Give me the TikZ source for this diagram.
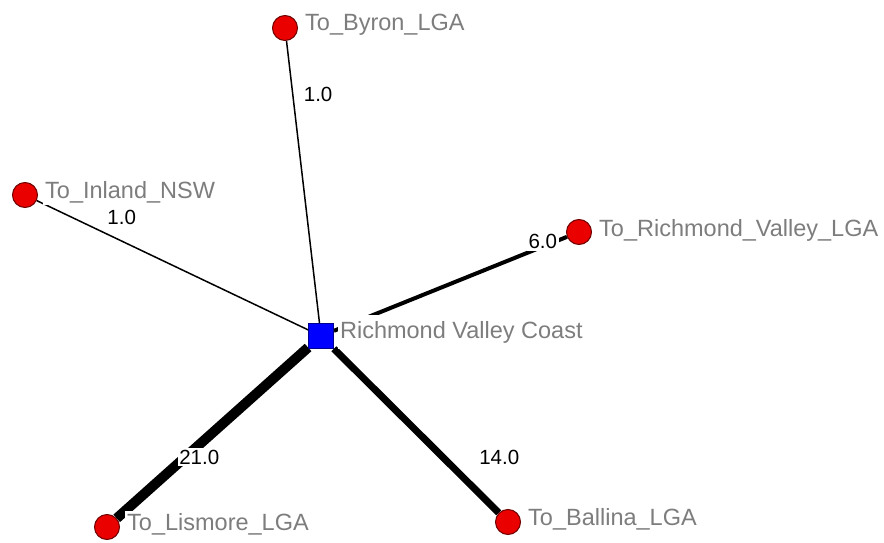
\documentclass[tikz,border=0pt]{standalone}
\usepackage{fontspec}
\setmainfont{Liberation Sans}
\usetikzlibrary{positioning,backgrounds}
\definecolor{nodered}{RGB}{235,0,0}
\definecolor{nodeborder}{RGB}{110,0,0}
\definecolor{hubblue}{RGB}{0,0,255}
\definecolor{hubborder}{RGB}{0,0,140}
\definecolor{labgray}{RGB}{125,125,125}
\begin{document}
\begin{tikzpicture}[x=1pt,y=-1pt,
  nd/.style={circle,minimum size=25pt,inner sep=0pt,fill=nodered,draw=nodeborder,line width=1pt},
  hub/.style={rectangle,minimum size=25pt,inner sep=0pt,fill=hubblue,draw=hubborder,line width=0.8pt},
  nlab/.style={font=\fontsize{23.5}{26}\selectfont,text=labgray,fill=white,inner sep=2pt},
  elab/.style={font=\fontsize{20.5}{24}\selectfont,text=black,fill=white,inner sep=1.5pt},
  wa/.style={line width=1.5pt},
  wb/.style={line width=4pt},
  wc/.style={line width=7pt},
  wd/.style={line width=10pt}]
\useasboundingbox (0,0) rectangle (884,543);
\node[hub] (c) at (321,336) {};
\node[nd] (byron) at (285,28) {};
\node[nd] (inland) at (25,195) {};
\node[nd] (rv) at (579,232) {};
\node[nd] (lis) at (107,527) {};
\node[nd] (bal) at (508,522) {};
\begin{scope}[on background layer]
\draw[wa] (c) -- node[elab,pos=0.80,xshift=25pt,yshift=3pt]{1.0} (byron);
\draw[wa] (c) -- node[elab,pos=0.72,xshift=9pt,yshift=19pt]{1.0} (inland);
\draw[wb] (c) -- node[elab,pos=0.905,xshift=-2pt,yshift=4pt]{6.0} (rv);
\draw[wd] (c) -- node[elab,pos=0.60,xshift=6pt,yshift=-7pt]{21.0} (lis);
\draw[wc] (c) -- node[elab,pos=0.833,xshift=28pt,yshift=28pt]{14.0} (bal);
\end{scope}
\node[nlab, inner ysep=6pt, right=4pt of c, yshift=4pt] (cl) {Richmond Valley Coast};
\node[nlab, right=5pt of byron, yshift=3pt] (byronl) {To\_Byron\_LGA};
\node[nlab, right=5pt of inland, yshift=3pt] (inlandl) {To\_Inland\_NSW};
\node[nlab, right=5pt of rv, yshift=2pt] (rvl) {To\_Richmond\_Valley\_LGA};
\node[nlab, right=5pt of lis, yshift=3pt] (lisl) {To\_Lismore\_LGA};
\node[nlab, right=5pt of bal, yshift=3pt] (ball) {To\_Ballina\_LGA};
\end{tikzpicture}
\end{document}
